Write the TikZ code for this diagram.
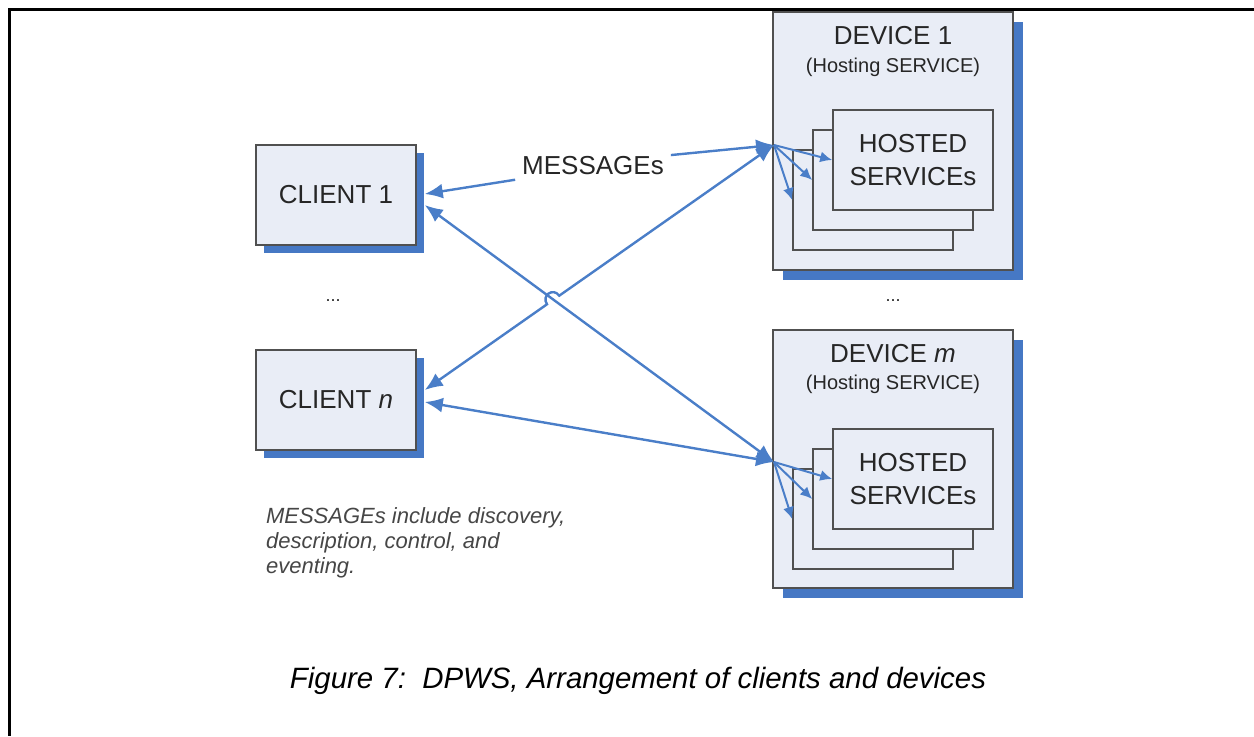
\documentclass[tikz,border=0pt]{standalone}
\usepackage{fontspec}
\setmainfont{Liberation Sans}
\usetikzlibrary{arrows.meta}
\usetikzlibrary{shadows}
\usetikzlibrary{calc}

\definecolor{boxfill}{RGB}{233,237,246}
\definecolor{shadowblue}{RGB}{70,120,196}
\definecolor{linkblue}{RGB}{74,126,200}
\definecolor{boxline}{RGB}{80,80,80}
\definecolor{labeltext}{RGB}{38,38,38}
\definecolor{notetext}{RGB}{70,70,70}

\tikzset{
    box/.style={draw=boxline,line width=0.8pt,fill=boxfill,text=labeltext,font=\fontsize{13}{16.5}\selectfont},
    clientbox/.style={box,minimum width=80pt,minimum height=50pt,
        drop shadow={shadow xshift=4pt,shadow yshift=-4pt,fill=shadowblue,opacity=1}},
    devicebox/.style={box,minimum width=120pt,minimum height=129pt,
        drop shadow={shadow xshift=5pt,shadow yshift=-5pt,fill=shadowblue,opacity=1}},
    hostbox/.style={box,minimum width=80pt,minimum height=50pt,align=center},
    link/.style={linkblue,line width=1.2pt,{Latex[length=9pt,width=7.5pt]}-{Latex[length=9pt,width=7.5pt]}},
    msgline/.style={linkblue,line width=1.2pt,-{Latex[length=9pt,width=7.5pt]}},
    port/.style={linkblue,line width=1pt,-{Latex[length=6pt,width=5.5pt]}},
}

\begin{document}
\begin{tikzpicture}[x=0.5pt,y=-0.5pt]
    \useasboundingbox (0,0) rectangle (1254,736);
    \draw[line width=1.5pt] (1254,9) -- (9,9) -- (9,736);

    % clients
    \node[clientbox] (c1) at (336,195) {CLIENT 1};
    \node[clientbox] (cn) at (336,400) {CLIENT \textit{n}};
    \node[text=labeltext,font=\fontsize{9}{10}\selectfont] (cdots) at (333,301) {...};

    % devices with hosted services
    \node[devicebox] (d1) at (893,141) {};
    \node[text=labeltext,font=\fontsize{13}{15}\selectfont] (d1t) at (893,36) {DEVICE 1};
    \node[text=labeltext,font=\fontsize{10}{12}\selectfont] (d1s) at (893,67) {(Hosting SERVICE)};
    \node[hostbox] (h13) at (873,200) {};
    \node[hostbox] (h12) at (893,180) {};
    \node[hostbox] (h11) at (913,160) {HOSTED\\SERVICEs};

    \node[text=labeltext,font=\fontsize{9}{10}\selectfont] (ddots) at (893,301) {...};

    \node[devicebox] (dm) at (893,459) {};
    \node[text=labeltext,font=\fontsize{13}{15}\selectfont] (dmt) at (893,354) {DEVICE \textit{m}};
    \node[text=labeltext,font=\fontsize{10}{12}\selectfont] (dms) at (893,384) {(Hosting SERVICE)};
    \node[hostbox] (hm3) at (873,519) {};
    \node[hostbox] (hm2) at (893,499) {};
    \node[hostbox] (hm1) at (913,479) {HOSTED\\SERVICEs};

    \coordinate (p1) at (774,145);
    \coordinate (pm) at (774,462);
    \coordinate (c1out) at ([shift={(8,10)}]c1.east);
    \coordinate (cnout) at ([shift={(8,-10)}]cn.east);

    % messages
    \node[text=labeltext,font=\fontsize{13}{15}\selectfont] (msg) at (593,166) {MESSAGEs};
    \draw[msgline] (msg.190) -- ([shift={(8,-1)}]c1.east);
    \draw[msgline] (msg.8) -- (p1);

    \draw[link] (c1out) -- (pm);
    \draw[link] (cnout) -- ($(cnout)!0.35!(p1)$) to[out=125,in=125,looseness=1.8] ($(cnout)!0.385!(p1)$) -- (p1);
    \draw[link] ([shift={(8,2)}]cn.east) -- (pm);

    \draw[port] (p1) -- (h11.west);
    \draw[port] (p1) -- (h12.west);
    \draw[port] (p1) -- (h13.west);
    \draw[port] (pm) -- (hm1.west);
    \draw[port] (pm) -- (hm2.west);
    \draw[port] (pm) -- (hm3.west);

    \node[anchor=north west,align=left,text=notetext,font=\fontsize{11}{12.5}\selectfont\itshape] (note) at (259,500)
        {MESSAGEs include discovery,\\description, control, and\\eventing.};

    \node[font=\fontsize{14.7}{18}\selectfont\itshape] (caption) at (638,681)
        {Figure 7:\ \ DPWS, Arrangement of clients and devices};
\end{tikzpicture}
\end{document}
